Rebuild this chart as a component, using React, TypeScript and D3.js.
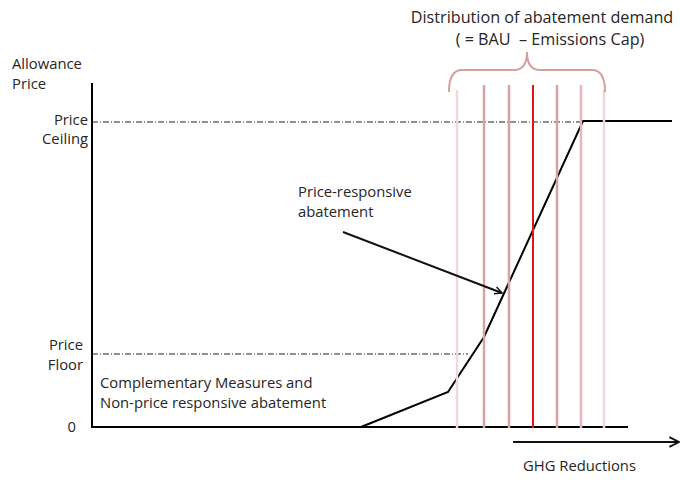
import React from "react";
import * as d3 from "d3";

// Data in chart units (abatement quantity, allowance price)
const curveQ = [269, 356, 392, 491, 580];
const curveP = [0, 35, 90, 306, 306];
const priceCeiling = 306;
const priceFloor = 73;
const ceilingEndQ = 488;
const floorEndQ = 376;
const demandQ = [365, 392, 417, 441, 465, 489, 512];
const demandColors = ["#eed8d8", "#d8a2a2", "#d8a2a2", "#e41414", "#d8a2a2", "#e2b8b8", "#eed8d8"];
const demandTops = [337, 342, 342, 342, 342, 342, 337];
const axisEndQ = 536;

const W = 680;
const H = 481;
const FONT = "'Open Sans', sans-serif";

export default function App() {
  const x = d3.scaleLinear().domain([0, 580]).range([92, 672]);
  const y = d3.scaleLinear().domain([0, 340]).range([427, 87]);
  const line = d3
    .line<number>()
    .x((_, i) => x(curveQ[i]))
    .y((d) => y(d));
  const curvePath = line(curveP) || "";

  const bl = x(demandQ[0]) - 8;
  const br = x(demandQ[demandQ.length - 1]) + 1;
  const bc = (bl + br) / 2;
  const by = 70;
  const braceD = `M${bl},92 Q${bl},${by} ${bl + 13},${by} L${bc - 13},${by} Q${bc},${by} ${bc},52 Q${bc},${by} ${bc + 13},${by} L${br - 13},${by} Q${br},${by} ${br},92`;

  const textStyle = { fontFamily: FONT, fill: "#262626", whiteSpace: "pre" } as const;
  const fs = 14.8;

  return (
    <svg width={W} height={H} style={{ position: "absolute", left: 0, top: 0 }}>
      <defs>
        <marker id="chev" viewBox="0 0 10 10" refX="9" refY="5" markerWidth="9" markerHeight="9" markerUnits="userSpaceOnUse" orient="auto">
          <path d="M1,1 L9,5 L1,9" fill="none" stroke="#111" strokeWidth="1.6" />
        </marker>
        <marker id="chev2" viewBox="0 0 10 10" refX="9" refY="5" markerWidth="12" markerHeight="12" markerUnits="userSpaceOnUse" orient="auto">
          <path d="M1,1 L9,5 L1,9" fill="none" stroke="#111" strokeWidth="1.6" />
        </marker>
      </defs>
      <rect width={W} height={H} fill="#fff" />

      {/* Title */}
      <text x={542} y={23} textAnchor="middle" fontSize={16.2} style={textStyle}>Distribution of abatement demand</text>
      <text x={550} y={45} textAnchor="middle" fontSize={16.2} style={textStyle} xmlSpace="preserve">( = BAU  – Emissions Cap)</text>

      {/* Y-axis labels */}
      <text x={12} y={69} fontSize={fs} style={textStyle}>Allowance</text>
      <text x={12} y={89} fontSize={fs} style={textStyle}>Price</text>
      <text x={88} y={125} textAnchor="end" fontSize={fs} style={textStyle}>Price</text>
      <text x={88} y={144} textAnchor="end" fontSize={fs} style={textStyle}>Ceiling</text>
      <text x={83} y={350} textAnchor="end" fontSize={fs} style={textStyle}>Price</text>
      <text x={83} y={370} textAnchor="end" fontSize={fs} style={textStyle}>Floor</text>
      <text x={76} y={432} textAnchor="end" fontSize={fs} style={textStyle}>0</text>

      {/* Annotations */}
      <text x={100} y={388} fontSize={fs} style={textStyle}>Complementary Measures and</text>
      <text x={100} y={408} fontSize={fs} style={textStyle}>Non-price responsive abatement</text>
      <text x={298} y={197} fontSize={fs} style={textStyle}>Price-responsive</text>
      <text x={298} y={217} fontSize={fs} style={textStyle}>abatement</text>
      <text x={523} y={471} fontSize={fs} style={textStyle}>GHG Reductions</text>

      {/* Dash-dot reference lines */}
      <line x1={x(0)} x2={x(ceilingEndQ)} y1={y(priceCeiling) + 1} y2={y(priceCeiling) + 1} stroke="#222" strokeWidth={1} strokeDasharray="6,2,1,2" />
      <line x1={x(0)} x2={x(floorEndQ)} y1={y(priceFloor)} y2={y(priceFloor)} stroke="#222" strokeWidth={1} strokeDasharray="6,2,1,2" />

      {/* Axes */}
      <line x1={x(0)} x2={x(0)} y1={83} y2={y(0) + 1} stroke="#000" strokeWidth={2} />
      <line x1={x(0) - 1} x2={x(axisEndQ)} y1={y(0)} y2={y(0)} stroke="#000" strokeWidth={2} />

      {/* Supply curve */}
      <path d={curvePath} fill="none" stroke="#000" strokeWidth={2} strokeLinejoin="miter" />

      {/* Demand distribution lines */}
      {demandQ.map((q, i) => (
        <line key={i} x1={x(q)} x2={x(q)} y1={y(demandTops[i])} y2={y(0) + 1} stroke={demandColors[i]} strokeWidth={i === 3 ? 2 : 2.5} />
      ))}

      {/* Brace */}
      <path d={braceD} fill="none" stroke="#d3a0a0" strokeWidth={2} />

      {/* Arrow to curve */}
      <line x1={343} y1={232} x2={502} y2={293} stroke="#111" strokeWidth={2} markerEnd="url(#chev)" />

      {/* GHG reductions arrow */}
      <line x1={513} y1={442} x2={679} y2={442} stroke="#111" strokeWidth={2} markerEnd="url(#chev2)" />
    </svg>
  );
}
